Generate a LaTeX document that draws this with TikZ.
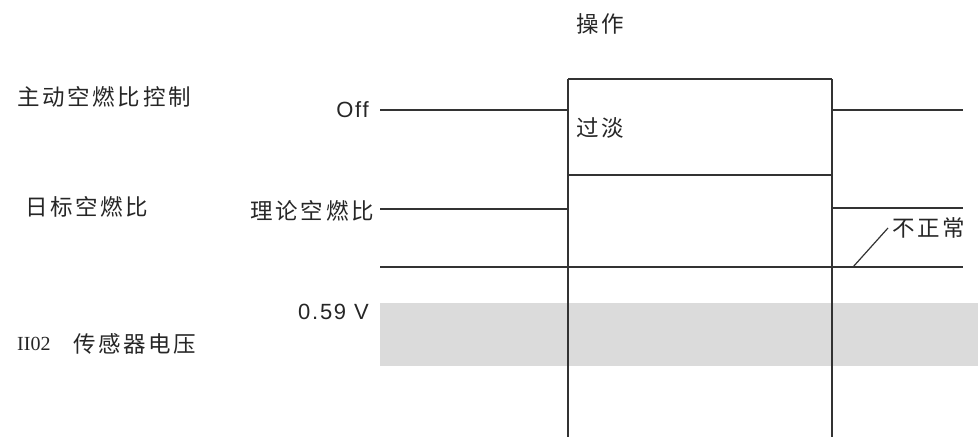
\documentclass[tikz,border=0pt]{standalone}
\usepackage{fontspec}
\setmainfont{Liberation Serif}
\newfontfamily\cjk[LetterSpace=12]{Noto Sans CJK SC}
\newfontfamily\lat[LetterSpace=8]{Liberation Sans}
\begin{document}
\begin{tikzpicture}[x=1pt,y=-1pt,
  sig/.style={draw=black!80,line width=1.6pt},
  cj/.style={font=\cjk\fontsize{22.5}{26}\selectfont,inner sep=0pt,text=black!85},
  lt/.style={font=\lat\fontsize{22}{26}\selectfont,inner sep=0pt,text=black!85}]
\useasboundingbox (0,0) rectangle (978,439);
% gray band
\fill[black!14] (380,303) rectangle (978,366);
% coordinates
\coordinate (a1) at (380,110); \coordinate (a2) at (568,110);
\coordinate (a3) at (832,110); \coordinate (a4) at (963,110);
\coordinate (b1) at (380,209); \coordinate (b2) at (568,209);
\coordinate (b3) at (832,208); \coordinate (b4) at (963,208);
\coordinate (c1) at (380,267); \coordinate (c2) at (963,267);
\coordinate (t1) at (568,79); \coordinate (t2) at (832,79);
\coordinate (m1) at (568,175); \coordinate (m2) at (832,175);
\coordinate (v1) at (568,437); \coordinate (v2) at (832,437);
\coordinate (l1) at (853,267); \coordinate (l2) at (888,228);
% lines
\draw[sig] (a1) -- (a2);
\draw[sig] (a3) -- (a4);
\draw[sig] (b1) -- (b2);
\draw[sig] (b3) -- (b4);
\draw[sig] (c1) -- (c2);
\draw[sig] (t1) -- (t2);
\draw[sig] (m1) -- (m2);
\draw[sig] (t1) -- (v1);
\draw[sig] (t2) -- (v2);
\draw[draw=black!80,line width=1.2pt] (l1) -- (l2);
% texts
\node[cj,anchor=west] (op) at (576,24) {操作};
\node[cj,anchor=west] (gd) at (576,128) {过淡};
\node[cj,anchor=west] (n1) at (17,97) {主动空燃比控制};
\node[cj,anchor=west] (n2) at (25,207) {日标空燃比};
\node[cj,anchor=east] (n3) at (374,211) {理论空燃比};
\node[cj,anchor=west] (n4) at (892,228) {不正常};
\node[lt,anchor=east] (off) at (369,110) {Off};
\node[lt,anchor=east] (v) at (369,312) {0.59 V};
\node[anchor=west,inner sep=0pt,text=black!85,font=\fontsize{20}{24}\selectfont] (h) at (17,344) {II02};
\node[cj,anchor=west] (n5) at (73,344) {传感器电压};
\end{tikzpicture}
\end{document}
